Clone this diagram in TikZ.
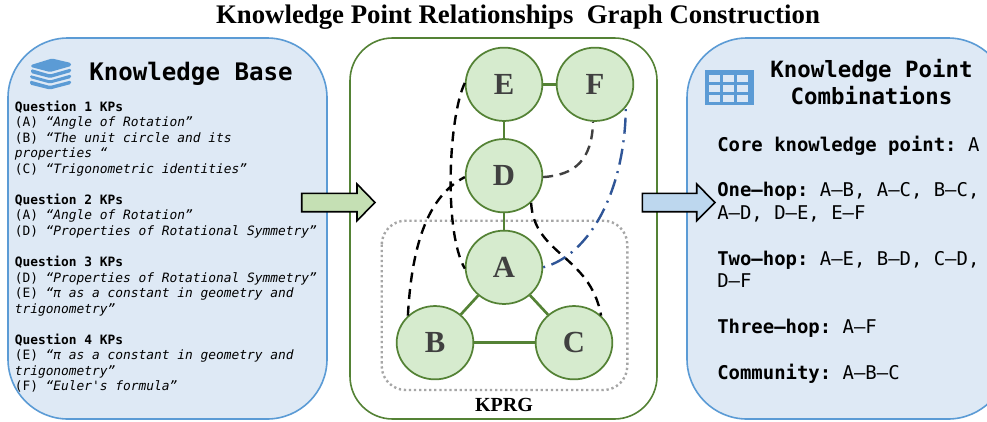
\documentclass[tikz,border=0pt]{standalone}
\usepackage{fontspec}
\setmainfont{Liberation Serif}
\setmonofont{DejaVu Sans Mono}
\definecolor{panelblue}{HTML}{DEE9F5}
\definecolor{edgeblue}{HTML}{5B9BD5}
\definecolor{edgegreen}{HTML}{548235}
\definecolor{nodegreen}{HTML}{D6EBCE}
\definecolor{lettergray}{HTML}{404040}
\definecolor{arrowgreen}{HTML}{C5E0B4}
\definecolor{arrowblue}{HTML}{BDD7EE}
\definecolor{linkblue}{HTML}{2F5597}
\definecolor{cellblue}{HTML}{DCE8F5}
\tikzset{
  x=0.75pt,y=-0.75pt,
  panel/.style={draw=edgeblue,fill=panelblue,line width=1.2pt},
  kp/.style={ellipse,draw=edgegreen,fill=nodegreen,line width=1.3pt,minimum width=57.5pt,minimum height=55pt,inner sep=0pt,
    font=\fontsize{23}{23}\selectfont\bfseries,text=lettergray},
  link/.style={edgegreen,line width=2pt},
  hop/.style={black,line width=1.8pt,dash pattern=on 7.5pt off 5pt},
  grayhop/.style={lettergray,line width=1.8pt,dash pattern=on 7.5pt off 5pt},
  bluehop/.style={linkblue,line width=1.8pt,dash pattern=on 1.5pt off 5pt on 12pt off 5pt},
  bigarrow/.style={draw=black,line width=1.2pt,miter limit=10},
  bodytext/.style={inner sep=0pt,anchor=north west,align=left,font=\ttfamily\fontsize{9.65}{11.65}\selectfont},
  headtext/.style={inner sep=0pt,align=center,font=\ttfamily\bfseries},
  sumtext/.style={inner sep=0pt,anchor=north west,align=left,font=\ttfamily\fontsize{14.2}{17.1}\selectfont},
}
\usetikzlibrary{shapes.geometric}
\begin{document}
\begin{tikzpicture}
\useasboundingbox (0,0) rectangle (987,421);
\clip (0,0) rectangle (987,421);
\fill[white] (0,0) rectangle (987,421);
\node[inner sep=0pt,font=\fontsize{20.1}{22}\selectfont\bfseries] (title) at (518,17) {Knowledge Point Relationships\ \ Graph Construction};

% left panel
\draw[panel,rounded corners=45pt] (8,38) rectangle (327,419);
\node[headtext,font=\ttfamily\bfseries\fontsize{18.1}{20}\selectfont] (kbt) at (191,74) {Knowledge Base};
\node[bodytext] (kbtext) at (14.5,100.5) {\textbf{Question 1 KPs}\\
(A) \textit{“Angle of Rotation”}\\
(B) \textit{“The unit circle and its}\\
\textit{properties “}\\
(C) \textit{“Trigonometric identities”}\\
\\
\textbf{Question 2 KPs}\\
(A) \textit{“Angle of Rotation”}\\
(D) \textit{“Properties of Rotational Symmetry”}\\
\\
\textbf{Question 3 KPs}\\
(D) \textit{“Properties of Rotational Symmetry”}\\
(E) \textit{“π as a constant in geometry and}\\
\textit{trigonometry”}\\
\\
\textbf{Question 4 KPs}\\
(E) \textit{“π as a constant in geometry and}\\
\textit{trigonometry”}\\
(F) \textit{“Euler's formula”}};

% book icon
\begin{scope}[edgeblue]
  \fill[rounded corners=1pt] (31,65) -- (52,58.5) -- (71,63) -- (71,66) -- (50,72) -- (31,67) -- cycle;
  \fill[rounded corners=1pt] (31,69) -- (50,74.5) -- (71,68.5) -- (71,72) -- (50,78) -- (31,73) -- cycle;
  \fill[rounded corners=1pt] (30,75) -- (50,80.5) -- (71,74.5) -- (71,78) -- (50,83.5) -- (30,78) -- cycle;
  \fill[rounded corners=1pt] (30,80.5) -- (50,86) -- (71,80.5) -- (71,84) -- (50,89.5) -- (30,84.5) -- cycle;
\end{scope}

% centre panel
\draw[edgegreen,line width=1.2pt,rounded corners=32pt] (350,38) rectangle (657,419);
\draw[gray!70,line width=1.8pt,dash pattern=on 1.7pt off 2.1pt,rounded corners=18pt] (381.7,220.7) rectangle (627.3,390);
\node[kp] (E) at (504,84.3) {E};
\node[kp] (F) at (595,84.3) {F};
\node[kp] (D) at (504,175.7) {D};
\node[kp] (A) at (504,267.3) {A};
\node[kp] (B) at (435,342.7) {B};
\node[kp] (C) at (574,342.7) {C};
\node[inner sep=0pt,font=\fontsize{15}{16}\selectfont\bfseries] (kprg) at (504,404.5) {KPRG};
\draw[link] (E) -- (F);
\draw[link] (E) -- (D);
\draw[link] (D) -- (A);
\draw[link] (A) -- (B);
\draw[link] (A) -- (C);
\draw[link] (B) -- (C);
\draw[hop] (E.178) .. controls (449,115) and (443,230) .. (A.182);
\draw[hop] (B.135) .. controls (412,240) and (430,195) .. (D.182);
\draw[hop] (D.-45) .. controls (534,255) and (590,255) .. (C.45);
\draw[grayhop] (D.-2) .. controls (575,175) and (592,160) .. (F.-93);
\draw[bluehop] (A.0) .. controls (590,255) and (625,190) .. (F.-37);

% right panel
\draw[panel,rounded corners=45pt] (687,38) rectangle (1008,419);
\node[headtext,font=\ttfamily\bfseries\fontsize{16.8}{20.2}\selectfont] (kpct) at (871.5,82.5) {Knowledge Point\\Combinations};
\node[sumtext] (kpc) at (717,135.5) {\textbf{Core knowledge point:} A\\
\\
\textbf{One–hop:} A–B, A–C, B–C,\\
A–D, D–E, E–F\\
\\
\textbf{Two–hop:} A–E, B–D, C–D,\\
D–F\\
\\
\textbf{Three–hop:} A–F\\
\\
\textbf{Community:} A–B–C};

% table icon
\fill[edgeblue] (705,70) rectangle (754,104.7);
\foreach \cx in {708.5,722.5,736.5}
  \foreach \cy in {75,85,94.5}
    \fill[cellblue] (\cx,\cy) rectangle ++(11,7);

% block arrows
\draw[bigarrow,fill=arrowgreen] (301.7,193.3) -- (357,193.3) -- (357,184) -- (375,202.5) -- (357,220.7) -- (357,211.7) -- (301.7,211.7) -- cycle;
\draw[bigarrow,fill=arrowblue] (642.3,193.3) -- (696.7,193.3) -- (696.7,184) -- (715,202.5) -- (696.7,220.7) -- (696.7,211.7) -- (642.3,211.7) -- cycle;
\end{tikzpicture}
\end{document}
